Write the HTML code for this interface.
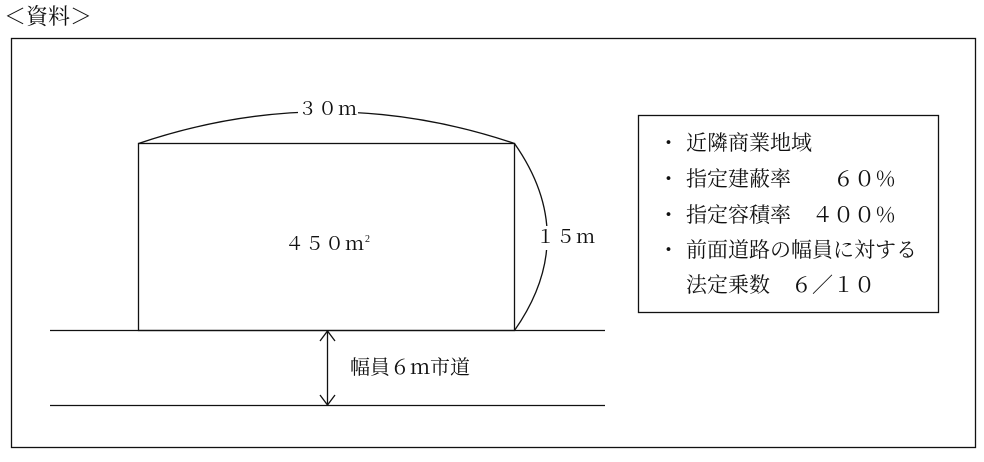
<!DOCTYPE html>
<html><head><meta charset="utf-8"><style>
body{margin:0;width:984px;height:462px;background:#fff;overflow:hidden;position:relative;font-family:"Liberation Serif","Noto Serif CJK SC",serif;color:#111}
.t{position:absolute;font-size:19px;line-height:24px;white-space:pre}
.b{position:absolute;font-size:21px;line-height:24px;white-space:pre;left:686px}
.d{position:absolute;left:658px;font-size:21px;line-height:24px}
</style></head><body>
<svg width="984" height="462" style="position:absolute;left:0;top:0" fill="none" stroke="#111" stroke-width="1.3">
<rect x="11.5" y="38.5" width="964" height="409"/>
<rect x="138.5" y="143.5" width="376" height="187"/>
<path d="M138.5 143.5 Q326 80 514.5 143.5"/>
<path d="M514.5 143.5 Q580 237 514.5 330.5"/>
<line x1="50" y1="330.5" x2="605" y2="330.5"/>
<line x1="50" y1="405.5" x2="605" y2="405.5"/>
<line x1="327.5" y1="331" x2="327.5" y2="405"/>
<path d="M320 341 L327.5 331 L335 341 M320 395 L327.5 405 L335 395"/>
<rect x="638.5" y="115.5" width="300" height="197"/>
</svg>
<div class="t" style="left:4px;top:5px;font-size:22px">＜資料＞</div>
<div class="t" style="left:298px;top:98px;background:#fff;letter-spacing:1px">３０ｍ</div>
<div class="t" style="left:285px;top:228px;letter-spacing:1px">４５０ｍ<span style="font-size:10px;vertical-align:8px">2</span></div>
<div class="t" style="left:536px;top:226px;background:#fff;letter-spacing:1px">１５ｍ</div>
<div class="t" style="left:350px;top:356px;font-size:20px">幅員６ｍ市道</div>
<div class="d" style="top:131px">・</div><div class="b" style="top:131px">近隣商業地域</div>
<div class="d" style="top:167px">・</div><div class="b" style="top:167px">指定建蔽率　　６０％</div>
<div class="d" style="top:203px">・</div><div class="b" style="top:203px">指定容積率　４００％</div>
<div class="d" style="top:238px">・</div><div class="b" style="top:238px">前面道路の幅員に対する</div>
<div class="b" style="top:273px">法定乗数　６／１０</div>
</body></html>
